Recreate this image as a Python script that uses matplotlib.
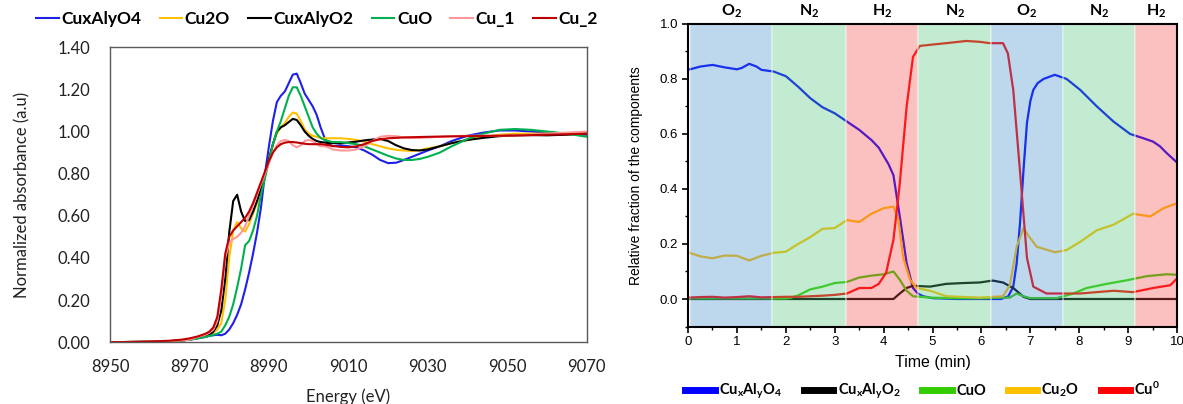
import matplotlib
matplotlib.use('Agg')
import matplotlib.pyplot as plt
from matplotlib.ticker import MultipleLocator, FormatStrFormatter
import matplotlib.transforms as mtransforms

plt.rcParams['font.family'] = ['Lato', 'DejaVu Sans']
plt.rcParams['mathtext.fontset'] = 'custom'
plt.rcParams['mathtext.rm'] = 'Lato'
plt.rcParams['mathtext.bf'] = 'Lato:bold'
plt.rcParams['mathtext.it'] = 'Lato:italic'

# ---- left panel: XANES spectra ----
energy = [8950, 8955, 8960, 8965, 8968, 8970, 8972, 8974, 8975, 8976, 8977, 8978, 8979,
          8980, 8981, 8982, 8983, 8984, 8985, 8986, 8987, 8988, 8989, 8990, 8991, 8992,
          8993, 8994, 8995, 8996, 8997, 8998, 8999, 9000, 9001, 9002, 9003, 9004, 9005,
          9006, 9008, 9010, 9012, 9014, 9016, 9018, 9020, 9022, 9024, 9026, 9028, 9030,
          9033, 9036, 9040, 9044, 9048, 9052, 9056, 9060, 9065, 9070]

cuxalyo4 = [0.0, 0.001, 0.002, 0.005, 0.008, 0.012, 0.018, 0.025, 0.03, 0.033, 0.035, 0.033, 0.04,
            0.06, 0.09, 0.13, 0.18, 0.25, 0.33, 0.42, 0.52, 0.64, 0.80, 0.93, 1.05, 1.14,
            1.17, 1.19, 1.23, 1.27, 1.275, 1.23, 1.18, 1.15, 1.12, 1.08, 1.02, 0.97, 0.94,
            0.93, 0.935, 0.93, 0.925, 0.91, 0.89, 0.865, 0.85, 0.852, 0.865, 0.88, 0.895, 0.91,
            0.93, 0.955, 0.98, 0.995, 1.005, 1.005, 1.0, 0.995, 0.99, 0.985]
cu2o = [0.0, 0.001, 0.002, 0.005, 0.008, 0.012, 0.02, 0.03, 0.035, 0.045, 0.06, 0.09, 0.2,
        0.4, 0.53, 0.57, 0.54, 0.525, 0.56, 0.61, 0.66, 0.72, 0.79, 0.87, 0.94, 0.99,
        1.02, 1.04, 1.07, 1.09, 1.085, 1.05, 1.01, 0.99, 0.98, 0.975, 0.97, 0.968, 0.968,
        0.968, 0.968, 0.965, 0.96, 0.952, 0.94, 0.93, 0.92, 0.913, 0.91, 0.908, 0.912, 0.92,
        0.93, 0.945, 0.96, 0.975, 0.985, 0.99, 0.99, 0.99, 0.99, 0.99]
cuxalyo2 = [0.0, 0.001, 0.002, 0.005, 0.008, 0.012, 0.02, 0.03, 0.035, 0.05, 0.08, 0.15, 0.3,
            0.52, 0.67, 0.70, 0.62, 0.575, 0.58, 0.62, 0.67, 0.73, 0.80, 0.87, 0.94, 1.0,
            1.02, 1.03, 1.045, 1.06, 1.055, 1.03, 1.0, 0.98, 0.965, 0.955, 0.95, 0.948, 0.945,
            0.945, 0.945, 0.948, 0.952, 0.958, 0.962, 0.965, 0.955, 0.935, 0.92, 0.912, 0.91, 0.915,
            0.93, 0.945, 0.96, 0.97, 0.978, 0.982, 0.983, 0.982, 0.985, 0.99]
cuo = [0.0, 0.001, 0.002, 0.005, 0.008, 0.012, 0.018, 0.025, 0.03, 0.035, 0.04, 0.05, 0.08,
       0.12, 0.18, 0.26, 0.35, 0.46, 0.48, 0.53, 0.60, 0.70, 0.78, 0.86, 0.94, 1.0,
       1.05, 1.11, 1.17, 1.21, 1.21, 1.17, 1.12, 1.07, 1.02, 0.99, 0.97, 0.96, 0.955,
       0.95, 0.95, 0.945, 0.94, 0.93, 0.915, 0.9, 0.885, 0.872, 0.865, 0.865, 0.87, 0.88,
       0.9, 0.93, 0.965, 0.99, 1.008, 1.012, 1.008, 1.0, 0.99, 0.975]
cu_1 = [0.0, 0.001, 0.002, 0.005, 0.008, 0.012, 0.025, 0.035, 0.045, 0.06, 0.1, 0.22, 0.4,
        0.47, 0.49, 0.50, 0.52, 0.55, 0.6, 0.65, 0.7, 0.75, 0.8, 0.85, 0.9, 0.935,
        0.955, 0.96, 0.955, 0.935, 0.925, 0.935, 0.955, 0.96, 0.955, 0.94, 0.93, 0.93, 0.925,
        0.915, 0.91, 0.91, 0.915, 0.93, 0.955, 0.975, 0.98, 0.978, 0.972, 0.97, 0.97, 0.972,
        0.975, 0.978, 0.98, 0.98, 0.98, 0.982, 0.985, 0.99, 0.995, 1.0]
cu_2 = [0.0, 0.001, 0.003, 0.007, 0.012, 0.018, 0.027, 0.04, 0.05, 0.07, 0.12, 0.25, 0.42,
        0.50, 0.53, 0.55, 0.57, 0.59, 0.62, 0.66, 0.71, 0.76, 0.81, 0.86, 0.9, 0.925,
        0.94, 0.947, 0.95, 0.95, 0.948, 0.945, 0.942, 0.94, 0.94, 0.94, 0.94, 0.938, 0.935,
        0.932, 0.927, 0.925, 0.93, 0.94, 0.955, 0.963, 0.968, 0.97, 0.972, 0.973, 0.974, 0.975,
        0.976, 0.977, 0.978, 0.979, 0.98, 0.981, 0.983, 0.985, 0.987, 0.99]

spectra = [('CuxAlyO4', cuxalyo4, '#1f1fe8'), ('Cu2O', cu2o, '#ffc000'),
           ('CuxAlyO2', cuxalyo2, '#000000'), ('CuO', cuo, '#00b050'),
           ('Cu_1', cu_1, '#ff9999'), ('Cu_2', cu_2, '#c00000')]

# ---- right panel: linear combination fit vs time ----
t_blue = [0, 0.25, 0.5, 0.75, 1.0, 1.1, 1.25, 1.4, 1.5, 1.75, 2.0, 2.25, 2.5, 2.75, 3.0, 3.25,
          3.5, 3.75, 3.9, 4.0, 4.1, 4.2, 4.33, 4.47, 4.6, 4.7, 4.81, 5.0, 5.5, 6.0, 6.4, 6.55,
          6.65, 6.72, 6.79, 6.86, 6.93, 7.0, 7.06, 7.15, 7.27, 7.5, 7.74, 8.02, 8.36, 8.7, 9.04,
          9.3, 9.51, 9.65, 9.79, 10.0]
f_blue = [0.833, 0.845, 0.851, 0.842, 0.835, 0.84, 0.855, 0.845, 0.833, 0.827, 0.81, 0.772,
          0.73, 0.697, 0.675, 0.645, 0.615, 0.578, 0.55, 0.52, 0.49, 0.45, 0.30, 0.13, 0.04,
          0.02, 0.01, 0.003, 0.0, 0.0, 0.0, 0.01, 0.045, 0.13, 0.28, 0.47, 0.64, 0.72, 0.76,
          0.785, 0.80, 0.815, 0.80, 0.76, 0.70, 0.645, 0.60, 0.585, 0.572, 0.555, 0.53, 0.496]

t_black = [0, 4.2, 4.33, 4.47, 4.6, 4.95, 5.28, 5.62, 5.96, 6.23, 6.44, 6.65, 6.86, 7.0, 10.0]
f_black = [0, 0, 0.02, 0.04, 0.048, 0.045, 0.055, 0.058, 0.06, 0.067, 0.06, 0.04, 0.008, 0, 0]

t_green = [0, 1.0, 2.0, 2.1, 2.25, 2.5, 2.75, 3.0, 3.25, 3.5, 3.75, 4.0, 4.2, 4.33, 4.47, 4.6,
           4.95, 5.5, 6.0, 6.58, 6.72, 6.86, 7.0, 7.54, 7.88, 8.15, 8.56, 8.97, 9.38, 9.79, 10.0]
f_green = [0.002, 0.002, 0.002, 0.004, 0.013, 0.035, 0.045, 0.058, 0.062, 0.078, 0.085, 0.09,
           0.1, 0.07, 0.03, 0.01, 0.005, 0.003, 0.003, 0.005, 0.02, 0.01, 0.003, 0.003, 0.02,
           0.04, 0.055, 0.068, 0.083, 0.09, 0.088]

t_yellow = [0, 0.25, 0.5, 0.75, 1.0, 1.25, 1.5, 1.75, 2.0, 2.25, 2.5, 2.75, 3.0, 3.25, 3.5, 3.75,
            4.0, 4.2, 4.3, 4.4, 4.54, 4.67, 4.95, 5.28, 5.96, 6.44, 6.58, 6.72, 6.86, 6.96, 7.13,
            7.5, 7.74, 8.02, 8.36, 8.7, 9.1, 9.45, 9.72, 10.0]
f_yellow = [0.17, 0.155, 0.148, 0.158, 0.157, 0.14, 0.157, 0.168, 0.172, 0.2, 0.225, 0.255,
            0.258, 0.287, 0.28, 0.31, 0.33, 0.336, 0.29, 0.15, 0.07, 0.04, 0.03, 0.01, 0.005,
            0.01, 0.05, 0.19, 0.258, 0.23, 0.19, 0.17, 0.178, 0.208, 0.25, 0.27, 0.31, 0.30,
            0.33, 0.348]

t_red = [0, 0.25, 0.5, 0.75, 1.0, 1.25, 1.5, 1.75, 2.0, 2.25, 2.5, 2.75, 3.0, 3.25, 3.5, 3.75,
         3.9, 4.05, 4.2, 4.33, 4.47, 4.6, 4.74, 5.0, 5.28, 5.69, 5.96, 6.17, 6.44, 6.54, 6.65,
         6.79, 6.93, 7.06, 7.33, 7.7, 8.02, 8.36, 8.7, 9.1, 9.51, 9.86, 10.0]
f_red = [0.005, 0.007, 0.008, 0.005, 0.007, 0.01, 0.006, 0.007, 0.008, 0.008, 0.01, 0.012,
         0.015, 0.02, 0.04, 0.04, 0.055, 0.095, 0.215, 0.42, 0.70, 0.88, 0.92, 0.925, 0.93,
         0.938, 0.935, 0.93, 0.93, 0.893, 0.76, 0.46, 0.15, 0.045, 0.02, 0.02, 0.02, 0.025,
         0.03, 0.025, 0.04, 0.05, 0.075]

gas_names = ['O$_\\mathbf{2}$', 'N$_\\mathbf{2}$', 'H$_\\mathbf{2}$', 'N$_\\mathbf{2}$',
             'O$_\\mathbf{2}$', 'N$_\\mathbf{2}$', 'H$_\\mathbf{2}$']
gas_edges = [0.04, 1.72, 3.22, 4.71, 6.2, 7.66, 9.14, 10.0]
gas_colors = ['#428dce', '#54c67f', '#f64b4b', '#54c67f', '#428dce', '#54c67f', '#f64b4b']

fig = plt.figure(figsize=(11.83, 4.04), dpi=100)

# left
ax1 = fig.add_axes([0.093, 0.153, 0.403, 0.730])
for name, vals, col in spectra:
    ax1.plot(energy, vals, color=col, lw=1.5, label=name)
ax1.set_xlim(8950, 9070)
ax1.set_ylim(0, 1.40)
ax1.set_xticks(range(8950, 9071, 20))
ax1.set_yticks([0, 0.2, 0.4, 0.6, 0.8, 1.0, 1.2, 1.4])
ax1.yaxis.set_major_formatter(FormatStrFormatter('%.2f'))
ax1.tick_params(length=0, labelsize=12, labelcolor='#222222')
ax1.tick_params(axis='x', pad=12)
ax1.tick_params(axis='y', pad=14)
for s in ax1.spines.values():
    s.set_color('#595959')
    s.set_linewidth(1.0)
ax1.set_xlabel('Energy (eV)', fontsize=12, color='#222222', labelpad=10)
ax1.set_ylabel('Normalized absorbance (a.u)', fontsize=12, color='#222222', labelpad=20)
fig.legend(*ax1.get_legend_handles_labels(), loc='center', bbox_to_anchor=(0.268, 0.952),
           ncol=6, frameon=False, handlelength=1.3, handletextpad=0.15, columnspacing=1.05,
           prop={'family': 'Lato', 'weight': 'bold', 'size': 12.5})

# right
ax2 = fig.add_axes([0.5816, 0.1918, 0.4134, 0.749])
ax2.plot(t_blue, f_blue, color='#0000ff', lw=1.6, label=r'Cu$_\mathbf{x}$Al$_\mathbf{y}$O$_\mathbf{4}$')
ax2.plot(t_black, f_black, color='#000000', lw=1.6, label=r'Cu$_\mathbf{x}$Al$_\mathbf{y}$O$_\mathbf{2}$')
ax2.plot(t_green, f_green, color='#33cc00', lw=1.6, label='CuO')
ax2.plot(t_yellow, f_yellow, color='#ffc000', lw=1.6, label=r'Cu$_\mathbf{2}$O')
ax2.plot(t_red, f_red, color='#ff0000', lw=1.6, label=r'Cu$^\mathbf{0}$')

trans = mtransforms.blended_transform_factory(ax2.transData, ax2.transAxes)
for i, gname in enumerate(gas_names):
    ax2.axvspan(gas_edges[i], gas_edges[i + 1], facecolor=gas_colors[i], alpha=0.35,
                edgecolor='white', lw=1.2, zorder=3)
    ax2.text((gas_edges[i] + gas_edges[i + 1]) / 2, 1.012, gname, transform=trans,
             ha='center', va='bottom', fontsize=11.5, fontweight='bold')

ax2.set_xlim(0, 10)
ax2.set_ylim(-0.1, 1.0)
ax2.xaxis.set_major_locator(MultipleLocator(1))
ax2.xaxis.set_minor_locator(MultipleLocator(0.5))
ax2.yaxis.set_major_locator(MultipleLocator(0.2))
ax2.yaxis.set_minor_locator(MultipleLocator(0.1))
ax2.yaxis.set_major_formatter(FormatStrFormatter('%.1f'))
ax2.tick_params(which='major', direction='out', length=4, width=1.2, labelsize=9.5, pad=3)
ax2.tick_params(which='minor', direction='out', length=2.5, width=1.0)
for lab in ax2.get_xticklabels() + ax2.get_yticklabels():
    lab.set_family('Liberation Sans')
for s in ax2.spines.values():
    s.set_linewidth(1.5)
    s.set_zorder(5)
ax2.set_xlabel('Time (min)', fontsize=11.5, family='Liberation Sans', labelpad=5)
ax2.set_ylabel('Relative fraction of the components', fontsize=10,
               family=['Liberation Sans Narrow', 'Liberation Sans'], labelpad=12)
fig.legend(*ax2.get_legend_handles_labels(), loc='center', bbox_to_anchor=(0.78, 0.032),
           ncol=5, frameon=False, handlelength=2.0, handletextpad=0.3, columnspacing=1.5,
           prop={'family': 'Lato', 'weight': 'bold', 'size': 10.5})
for line in fig.legends[-1].get_lines():
    line.set_linewidth(5)

fig.savefig('out.png', dpi=100)
